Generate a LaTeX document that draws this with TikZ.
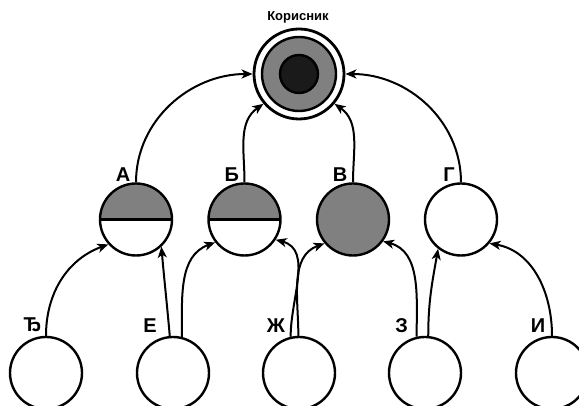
\documentclass[tikz,border=0pt]{standalone}
\usepackage{fontspec}
\setmainfont{Liberation Sans}
\usetikzlibrary{arrows.meta}
\definecolor{midgray}{HTML}{808080}
\definecolor{darkfill}{HTML}{1A1A1A}
\begin{document}
\begin{tikzpicture}[x=1pt,y=1pt,
  leaf/.style={circle, draw, line width=2.4pt, fill=white, minimum size=72pt, inner sep=0pt},
  half/.style={leaf, path picture={
      \fill[midgray] (path picture bounding box.west) rectangle (path picture bounding box.north east);
      \draw[line width=2.4pt] (path picture bounding box.west) -- (path picture bounding box.east);}},
  full/.style={leaf, fill=midgray},
  lbl/.style={font=\bfseries\fontsize{20}{22}\selectfont, inner sep=0pt},
  toplbl/.style={font=\bfseries\fontsize{13}{15}\selectfont, inner sep=0pt},
  link/.style={line width=2pt, -{Stealth[length=11pt,width=9pt,inset=3pt]}}]
\clip (0,0) rectangle (579,406);
\fill[white] (0,0) rectangle (579,406);

% top node
\node[circle, draw, line width=2.8pt, fill=white, minimum size=90pt, inner sep=0pt] (user) at (299,332) {};
\node[circle, draw, line width=2.4pt, fill=midgray, minimum size=74pt, inner sep=0pt] (userring) at (user) {};
\node[circle, draw, line width=2.4pt, fill=darkfill, minimum size=38pt, inner sep=0pt] (usercore) at (user) {};
\node[toplbl] (labUser) at (298,388.5) {Корисник};

% middle row
\node[half] (A) at (136,186.5) {};
\node[half] (B) at (244.5,186.5) {};
\node[full] (V) at (353,186.5) {};
\node[leaf] (G) at (461,186.5) {};
\node[lbl] (labA) at (123,231) {А};
\node[lbl] (labB) at (231.7,231) {Б};
\node[lbl] (labV) at (340,231) {В};
\node[lbl] (labG) at (449,231) {Г};

% bottom row
\node[leaf] (Dj) at (46,33) {};
\node[leaf] (E) at (173,33) {};
\node[leaf] (Zh) at (299,33) {};
\node[leaf] (Z) at (425,33) {};
\node[leaf] (I) at (552,33) {};
\node[lbl] (labDj) at (32.5,81) {Ђ};
\node[lbl] (labE) at (150,80.5) {Е};
\node[lbl] (labZh) at (276,80.5) {Ж};
\node[lbl] (labZ) at (401.7,80.5) {З};
\node[lbl] (labI) at (538,80.5) {И};

% connectors to top
\draw[link] (A.north) to[out=90,in=180] (user.west);
\draw[link] (B.north) to[out=90,in=215] (user.-140);
\draw[link] (V.north) to[out=90,in=-35] (user.-40);
\draw[link] (G.north) to[out=90,in=0] (user.east);

% connectors to middle row
\draw[link] (Dj.north) to[out=90,in=200] (A.-138);
\draw[link] (E.95) to[out=95,in=-85] (A.-47);
\draw[link] (E.76) to[out=90,in=200] (B.-142);
\draw[link] (Zh.103) to[out=90,in=-15] (B.-33);
\draw[link] (Zh.91) to[out=90,in=200] (V.-140);
\draw[link] (Z.103) to[out=90,in=-15] (V.-36);
\draw[link] (Z.85) to[out=90,in=-100] (G.-128);
\draw[link] (I.north) to[out=90,in=-10] (G.-40);
\end{tikzpicture}
\end{document}
